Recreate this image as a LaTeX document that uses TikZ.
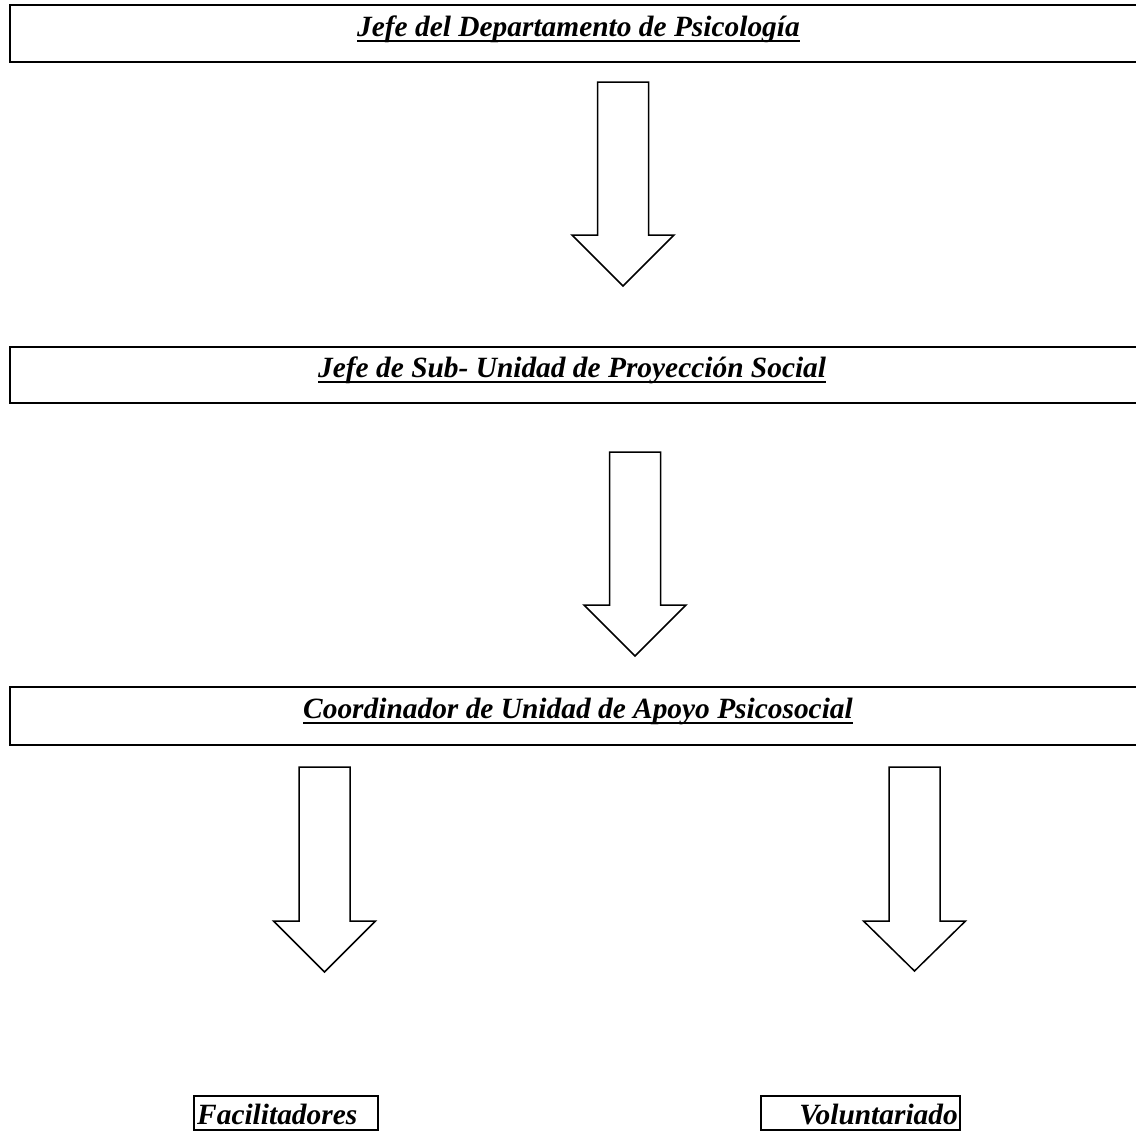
\documentclass[tikz,border=0pt]{standalone}
\usepackage{fontspec}
\setmainfont{Liberation Serif}
\newcommand\myul[1]{\setbox0=\hbox{#1}\leavevmode\rlap{\copy0}\rule[-6pt]{\wd0}{2.4pt}}
\tikzset{
  lbl/.style={inner sep=0pt, font=\fontsize{29.4}{32}\selectfont\bfseries\itshape},
  frame/.style={line width=1.5pt, draw=black},
  blockarrow/.style={line width=1.5pt, draw=black, fill=white, line join=miter}
}
% #1 centre x, #2 top y, #3 shaft bottom y, #4 tip y, #5 name of tip
\newcommand\blockdown[5]{%
  \draw[blockarrow] (#1-25.5,#2) -- (#1+25.5,#2) -- (#1+25.5,#3) -- (#1+51,#3)
     -- (#1,#4) coordinate (#5) -- (#1-51,#3) -- (#1-25.5,#3) -- cycle;}
\begin{document}
\begin{tikzpicture}[x=1pt,y=-1pt]
\useasboundingbox (0,0) rectangle (1136,1136);
% level boxes (open on the right)
\draw[frame] (1140,5) -- (10,5) -- (10,62) -- (1140,62);
\draw[frame] (1140,347) -- (10,347) -- (10,403) -- (1140,403);
\draw[frame] (1140,687) -- (10,687) -- (10,745) -- (1140,745);
\node[lbl, anchor=base west] (t1) at (357,36) {\myul{Jefe del Departamento de Psicología}};
\node[lbl, anchor=base west] (t2) at (318,377) {\myul{Jefe de Sub- Unidad de Proyección Social}};
\node[lbl, anchor=base west] (t3) at (303,718) {\myul{Coordinador de Unidad de Apoyo Psicosocial}};
% block arrows
\blockdown{623}{82}{235}{286}{a1}
\blockdown{635}{452}{605}{656}{a2}
\blockdown{324.5}{767}{921}{972}{a3}
\blockdown{914.5}{767}{921}{971}{a4}
% bottom boxes
\draw[frame, line width=1.2pt] (194,1096) rectangle (378,1130);
\node[lbl, anchor=base west] (tf) at (197,1124) {Facilitadores};
\draw[frame, line width=1.2pt] (761,1096) rectangle (960,1130);
\node[lbl, anchor=base east] (tv) at (958,1124) {Voluntariado};
\end{tikzpicture}
\end{document}
